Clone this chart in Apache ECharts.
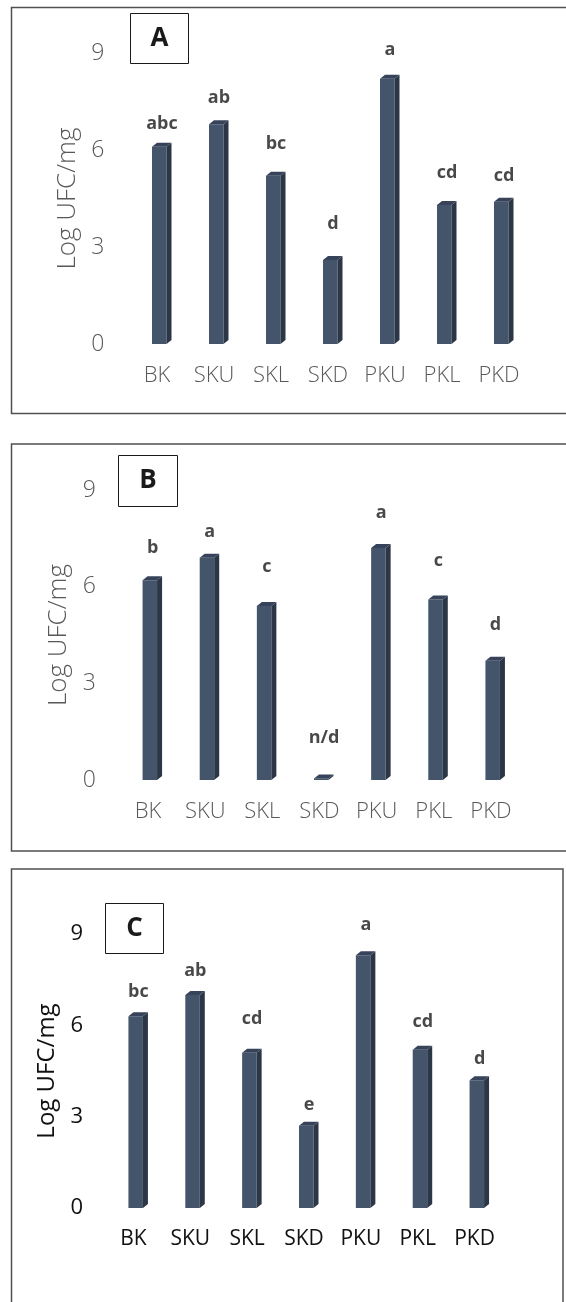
<!DOCTYPE html>
<html>
<head>
<meta charset="utf-8">
<script src="https://cdn.jsdelivr.net/npm/echarts@6/dist/echarts.min.js"></script>
<style>
  html, body { margin: 0; padding: 0; background: #fff; }
  #chart { width: 566px; height: 1302px; }
</style>
</head>
<body>
<div id="chart"></div>
<script>
// samples on the x axis
const categories = ['BK', 'SKU', 'SKL', 'SKD', 'PKU', 'PKL', 'PKD']
const yTicks = [0, 3, 6, 9]

// Log UFC/mg per panel
const valuesA = [6.1, 6.8, 5.2, 2.6, 8.2, 4.3, 4.4]
const valuesB = [6.2, 6.9, 5.4, 0.05, 7.2, 5.6, 3.7]
const valuesC = [6.3, 7.0, 5.1, 2.7, 8.3, 5.2, 4.2]

// significance letters and the height (in Log UFC/mg) where each one sits
const lettersA = ['abc', 'ab', 'bc', 'd', 'a', 'cd', 'cd']
const lettersB = ['b', 'a', 'c', 'n/d', 'a', 'c', 'd']
const lettersC = ['bc', 'ab', 'cd', 'e', 'a', 'cd', 'd']
const letterYA = [6.8, 7.6, 6.2, 3.7, 9.1, 5.3, 5.2]
const letterYB = [7.2, 7.7, 6.6, 1.3, 8.3, 6.8, 4.8]
const letterYC = [7.1, 7.8, 6.2, 3.4, 9.3, 6.1, 4.9]

const chart = echarts.init(document.getElementById('chart'), null, { renderer: 'canvas' })

const FRONT = '#44546a'
const SIDE = '#2b3646'
const TOP = '#36435a'

// excel-like 3d column: front face + side + top
const render3dBar = (params, api) => {
  const v = api.value(1)
  const top = api.coord([api.value(0), v])
  const base = api.coord([api.value(0), 0])
  const fw = 14.5
  const sw = 5
  const d = 4
  const x0 = top[0] - 10
  const h = base[1] - top[1]
  return {
    type: 'group',
    children: [
      { type: 'rect', shape: { x: x0, y: top[1], width: fw, height: h }, style: { fill: FRONT } },
      {
        type: 'polygon',
        shape: { points: [[x0 + fw, top[1]], [x0 + fw + sw, top[1] - d], [x0 + fw + sw, base[1] - d], [x0 + fw, base[1]]] },
        style: { fill: SIDE }
      },
      {
        type: 'polygon',
        shape: { points: [[x0, top[1]], [x0 + sw, top[1] - d], [x0 + fw + sw, top[1] - d], [x0 + fw, top[1]]] },
        style: { fill: TOP }
      }
    ]
  }
}

const panels = [
  { grid: { left: 133.5, width: 399, top: 53, height: 291 }, values: valuesA, letters: lettersA, letterY: letterYA,
    txt: '#595959', weight: 300, ySize: 23, xSize: 22, nameSize: 26, yMargin: 29, xMargin: 21, xPad: 10, nameGap: 50 },
  { grid: { left: 124, width: 400, top: 490, height: 290 }, values: valuesB, letters: lettersB, letterY: letterYB,
    txt: '#595959', weight: 300, ySize: 23, xSize: 22, nameSize: 26, yMargin: 28, xMargin: 21, xPad: 9, nameGap: 50 },
  { grid: { left: 110, width: 398, top: 934, height: 274 }, values: valuesC, letters: lettersC, letterY: letterYC,
    txt: '#111111', weight: 400, ySize: 22, xSize: 21, nameSize: 24, yMargin: 27, xMargin: 21, xPad: 10, nameGap: 51 }
]

const grids = []
const xAxes = []
const yAxes = []
const series = []

panels.forEach((p, k) => {
  grids.push(p.grid)
  xAxes.push({
    type: 'category',
    gridIndex: k,
    data: categories,
    axisLine: { show: false },
    axisTick: { show: false },
    axisLabel: {
      margin: p.xMargin,
      fontFamily: 'Open Sans',
      fontWeight: p.weight,
      fontSize: p.xSize,
      color: p.txt,
      padding: [0, p.xPad, 0, 0]
    }
  })
  yAxes.push({
    type: 'value',
    gridIndex: k,
    min: yTicks[0],
    max: yTicks[yTicks.length - 1],
    interval: 3,
    name: 'Log UFC/mg',
    nameLocation: 'middle',
    nameGap: p.nameGap,
    nameTextStyle: { fontFamily: 'Open Sans', fontWeight: p.weight, fontSize: p.nameSize, color: p.txt },
    axisLine: { show: false },
    axisTick: { show: false },
    splitLine: { show: false },
    axisLabel: {
      margin: p.yMargin,
      fontFamily: 'Open Sans',
      fontWeight: p.weight,
      fontSize: p.ySize,
      color: p.txt
    }
  })
  series.push({
    type: 'custom',
    xAxisIndex: k,
    yAxisIndex: k,
    renderItem: render3dBar,
    data: p.values.map((v, i) => [i, v])
  })
  series.push({
    type: 'scatter',
    xAxisIndex: k,
    yAxisIndex: k,
    symbolSize: 0,
    clip: false,
    silent: true,
    data: p.letterY.map((v, i) => [i, v]),
    label: {
      show: true,
      position: 'inside',
      formatter: (d) => p.letters[d.dataIndex],
      fontFamily: 'Open Sans',
      fontWeight: 'bold',
      fontSize: 18,
      color: '#1a1a1a'
    }
  })
})

// panel frames and the A / B / C tag boxes
const frame = (x, y, w, h) => ({
  type: 'rect', shape: { x, y, width: w, height: h }, style: { fill: 'none', stroke: '#505050', lineWidth: 1.5 }
})
const tag = (x, y, w, h, t) => ({
  type: 'group',
  children: [
    { type: 'rect', shape: { x, y, width: w, height: h }, style: { fill: '#fff', stroke: '#1a1a1a', lineWidth: 1 } },
    {
      type: 'text', x: x + w / 2, y: y + h / 2,
      style: { text: t, fontFamily: 'Open Sans', fontWeight: 'bold', fontSize: 26, fill: '#1a1a1a', align: 'center', verticalAlign: 'middle' }
    }
  ]
})

chart.setOption({
  animation: false,
  grid: grids,
  xAxis: xAxes,
  yAxis: yAxes,
  series: series,
  graphic: [
    frame(11.5, 7.5, 570, 406),
    frame(11.5, 444, 570, 407),
    frame(11.5, 869, 551.5, 500),
    tag(130.5, 13.5, 58, 50, 'A'),
    tag(118.5, 455.5, 59, 51, 'B'),
    tag(105.5, 903.5, 58, 50, 'C')
  ]
})

window.addEventListener('resize', () => {
  chart.resize()
})
</script>
</body>
</html>
